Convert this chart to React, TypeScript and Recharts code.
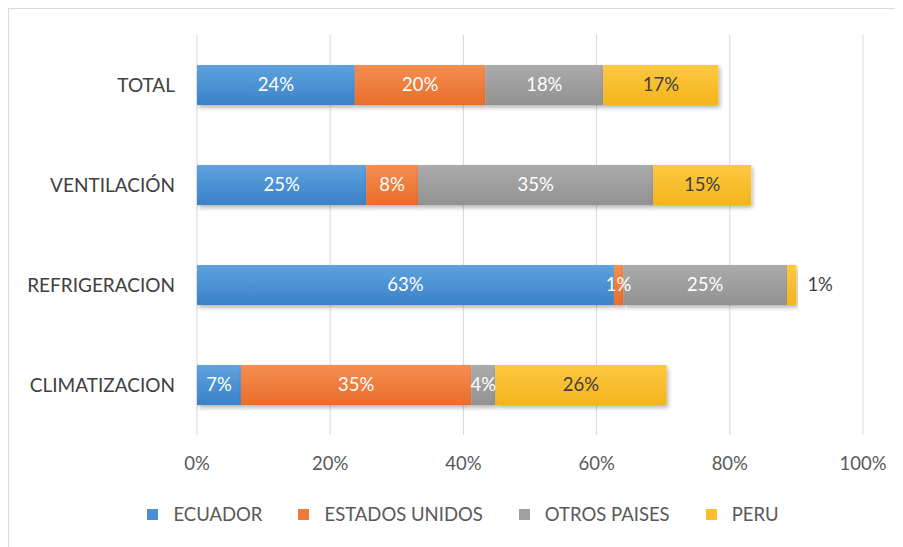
import React from "react";
import { BarChart, Bar, XAxis, YAxis, CartesianGrid, Legend, LabelList } from "recharts";

const categories = ["TOTAL", "VENTILACIÓN", "REFRIGERACION", "CLIMATIZACION"];
const ecuador = [23.7, 25.4, 62.6, 6.6];
const estadosUnidos = [19.6, 7.8, 1.4, 34.6];
const otrosPaises = [17.7, 35.3, 24.6, 3.6];
const peru = [17.3, 14.7, 1.4, 25.7];
const xTicks = [0, 20, 40, 60, 80, 100];

const seriesNames = ["ECUADOR", "ESTADOS UNIDOS", "OTROS PAISES", "PERU"];
const seriesKeys = ["ecuador", "estados", "otros", "peru"];
const seriesColors = ["#4a8fd3", "#ef7a37", "#a0a0a0", "#fbbd2b"];
const gradTop = ["#5fa2de", "#f58d52", "#ababab", "#fdc842"];
const gradBottom = ["#3a82c8", "#e96e2a", "#929292", "#f4b41c"];

const data = categories.map((name, i) => ({
  name,
  ecuador: ecuador[i],
  estados: estadosUnidos[i],
  otros: otrosPaises[i],
  peru: peru[i],
}));

const FONT = "Lato, 'Open Sans', sans-serif";

const makeLabel = (dark: boolean) => (props: any) => {
  const { x, y, width, height, value } = props;
  const txt = Math.round(Number(value)) + "%";
  const outside = dark && Number(value) < 5;
  const cx = outside ? Number(x) + Number(width) + 11 : Number(x) + Number(width) / 2;
  return (
    <text
      x={cx}
      y={Number(y) + Number(height) / 2}
      dy="0.35em"
      textAnchor={outside ? "start" : "middle"}
      fill={dark ? "#404040" : "#ffffff"}
      fontSize={18.5}
      fontFamily={FONT}
    >
      {txt}
    </text>
  );
};

const makeShape = (idx: number) => (props: any) => {
  const { x, y, width, height } = props;
  return (
    <rect
      x={x}
      y={y}
      width={width}
      height={height}
      fill={`url(#grad${idx})`}
      filter="url(#barShadow)"
    />
  );
};

const renderLegend = () => (
  <div
    style={{
      display: "flex",
      justifyContent: "center",
      alignItems: "center",
      height: 30,
      fontFamily: FONT,
      fontSize: 18.5,
      color: "#595959",
      paddingLeft: 54,
    }}
  >
    {seriesNames.map((n, i) => (
      <div key={n} style={{ display: "flex", alignItems: "center", marginRight: i < 3 ? 36 : 0 }}>
        <span
          style={{
            display: "inline-block",
            width: 11,
            height: 11,
            background: seriesColors[i],
            marginRight: 15,
          }}
        />
        <span>{n}</span>
      </div>
    ))}
  </div>
);

export default function App() {
  return (
    <div
      style={{
        width: 895,
        height: 539,
        borderLeft: "1.5px solid #d9d9d9",
        borderTop: "1.5px solid #d9d9d9",
        background: "#ffffff",
        boxSizing: "border-box",
      }}
    >
      <BarChart
        width={885}
        height={537}
        data={data}
        layout="vertical"
        margin={{ top: 26, right: 31, bottom: 17, left: 0 }}
        barSize={40}
      >
        <defs>
          {seriesColors.map((c, i) => (
            <linearGradient key={i} id={`grad${i}`} x1="0" y1="0" x2="0" y2="1">
              <stop offset="0%" stopColor={gradTop[i]} />
              <stop offset="100%" stopColor={gradBottom[i]} />
            </linearGradient>
          ))}
          <filter id="barShadow" x="-5%" y="-20%" width="115%" height="150%">
            <feDropShadow dx="1.5" dy="2.5" stdDeviation="2" floodColor="#000" floodOpacity="0.3" />
          </filter>
        </defs>
        <CartesianGrid horizontal={false} stroke="#d9d9d9" />
        <XAxis
          type="number"
          domain={[0, 100]}
          ticks={xTicks}
          tickFormatter={(v: number) => v + "%"}
          axisLine={false}
          tickLine={false}
          tickMargin={16}
          height={64}
          tick={{ fill: "#595959", fontSize: 18.5, fontFamily: FONT }}
          interval={0}
        />
        <YAxis
          type="category"
          dataKey="name"
          width={188}
          axisLine={false}
          tickLine={false}
          tickMargin={16}
          tick={{ fill: "#404040", fontSize: 19, fontFamily: FONT }}
        />
        <Legend verticalAlign="bottom" content={renderLegend} />
        {seriesKeys.map((k, i) => (
          <Bar
            key={k}
            dataKey={k}
            name={seriesNames[i]}
            stackId="a"
            fill={seriesColors[i]}
            shape={makeShape(i)}
            isAnimationActive={false}
          >
            <LabelList dataKey={k} content={makeLabel(i === 3)} />
          </Bar>
        ))}
      </BarChart>
    </div>
  );
}
